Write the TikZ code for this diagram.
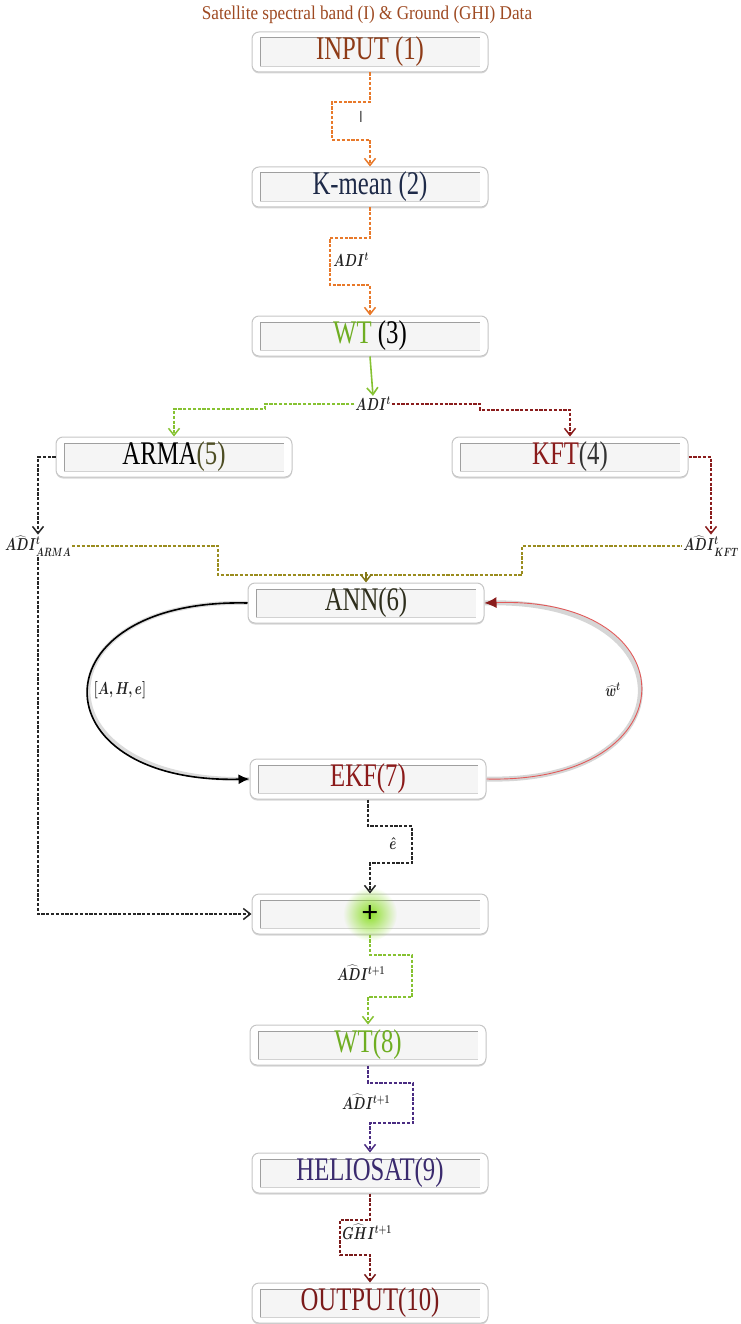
\documentclass[tikz,border=0pt]{standalone}
\usepackage{fontspec}
\usepackage{graphicx}
\setmainfont{Liberation Serif}
\newfontfamily\boxfam[FakeStretch=0.75]{Liberation Serif}
\newfontfamily\titlefam[FakeStretch=0.88]{Liberation Serif}
\usetikzlibrary{arrows.meta,shadows,fadings}

% colours
\definecolor{brownA}{HTML}{8E3B17}
\definecolor{titlebrown}{HTML}{9E4A22}
\definecolor{navy}{HTML}{1E2A48}
\definecolor{wtgreen}{HTML}{6FAE22}
\definecolor{orangeL}{HTML}{E8792A}
\definecolor{greenL}{HTML}{86C232}
\definecolor{redL}{HTML}{8A1C1C}
\definecolor{oliveL}{HTML}{9A8C1E}
\definecolor{purpleL}{HTML}{4A2C82}
\definecolor{helioC}{HTML}{3A2A6E}
\definecolor{ekfred}{HTML}{8B1A1A}
\definecolor{outred}{HTML}{7A1A1A}
\definecolor{annC}{HTML}{2E2E1C}
\definecolor{armaC}{HTML}{4E4E24}
\definecolor{glowgreen}{HTML}{8EE02A}
\definecolor{arcred}{HTML}{E25A5A}
\definecolor{labC}{HTML}{222222}

% narrow math labels
\newcommand{\nar}[1]{\scalebox{0.74}[1]{\boldmath$#1$}}

\tikzfading[name=glowfade, inner color=transparent!0, outer color=transparent!100]

\tikzset{
  blk/.style={rounded corners=7pt, minimum width=236pt, minimum height=40pt,
    inner sep=0pt, fill=white, draw=gray!45, line width=1pt,
    drop shadow={shadow xshift=0pt, shadow yshift=-1.5pt, opacity=0.45, fill=gray!70},
    path picture={
      \fill[gray!8, sharp corners]
        ([shift={(8pt,-6pt)}]path picture bounding box.north west) rectangle
        ([shift={(-8pt,6pt)}]path picture bounding box.south east);
      \draw[gray!75, line width=1pt, sharp corners]
        ([shift={(8pt,6pt)}]path picture bounding box.south west) --
        ([shift={(8pt,-6pt)}]path picture bounding box.north west) --
        ([shift={(-8pt,-6pt)}]path picture bounding box.north east);
      \draw[gray!35, line width=0.8pt, sharp corners]
        ([shift={(8pt,6pt)}]path picture bounding box.south west) --
        ([shift={(-8pt,6pt)}]path picture bounding box.south east);
    },
    font=\boxfam\fontsize{33}{33}\selectfont},
  lab/.style={inner sep=1pt, text=labC, font=\fontsize{17}{17}\selectfont},
  conn/.style={line width=1.5pt, dash pattern=on 3.2pt off 1.6pt},
  tip/.style={-{Straight Barb[length=7pt,width=11pt]}},
}

\begin{document}
\begin{tikzpicture}[x=1pt,y=-1pt]
\useasboundingbox (0,0) rectangle (740,1324);

% title
\node[font=\titlefam\fontsize{19.5}{19.5}\selectfont, text=titlebrown] (title) at (367,15)
  {Satellite spectral band (I) \& Ground (GHI) Data};

% processing blocks
\node[blk] (in)    at (370,52)   {\color{brownA}INPUT (1)};
\node[blk] (km)    at (370,187)  {\color{navy}K-mean (2)};
\node[blk] (wt3)   at (370,336)  {{\color{wtgreen}WT} (3)};
\node[blk] (arma)  at (174,457)  {ARMA{\color{armaC}(5)}};
\node[blk] (kft)   at (570,457)  {{\color{redL}KFT}{\color{black!80}(4)}};
\node[blk] (ann)   at (366,603)  {\color{annC}ANN(6)};
\node[blk] (ekf)   at (368,779)  {\color{ekfred}EKF(7)};
\node[blk] (plus)  at (370,914)  {};
\node[blk] (wt8)   at (368,1045) {\color{wtgreen}WT(8)};
\node[blk] (helio) at (370,1173) {\color{helioC}HELIOSAT(9)};
\node[blk] (out)   at (370,1303) {\color{outred}OUTPUT(10)};

% summing point with its glow
\fill[glowgreen, path fading=glowfade] (plus.center) circle (27pt);
\node[font=\bfseries\fontsize{30}{30}\selectfont] (plussign) at (plus.center) {+};

% signal labels
\node[lab, font=\sffamily\fontsize{16}{16}\selectfont, text=black!70] (lI) at (361,117) {I};
\node[lab] (l2)      at (351,260)  {\nar{ADI^{t}}};
\node[lab] (adit)    at (373,404)  {\nar{ADI^{t}}};
\node[lab] (adiarma) at (38,546)   {\nar{\widehat{ADI}{}^{t}_{ARMA}}};
\node[lab] (adikft)  at (711,546)  {\nar{\widehat{ADI}{}^{t}_{KFT}}};
\node[lab] (lahe)    at (120,690)  {\nar{[A,H,e]}};
\node[lab] (lw)      at (613,690)  {\nar{\widehat{w}{}^{t}}};
\node[lab] (le)      at (393,843)  {\nar{\hat{e}}};
\node[lab] (l8)      at (361,973)  {\nar{\widehat{ADI}{}^{t+1}}};
\node[lab] (l9)      at (366,1102) {\nar{\widehat{ADI}{}^{t+1}}};
\node[lab] (l10)     at (367,1232) {\nar{\widehat{GHI}{}^{t+1}}};

% input -> clustering -> wavelet
\draw[conn, tip, orangeL] (in.south) -- (370,102) -- (332,102) -- (332,140) -- (370,140) -- (km.north);
\draw[conn, tip, orangeL] (km.south) -- (370,238) -- (330,238) -- (330,285) -- (370,285) -- (wt3.north);
\draw[line width=1.6pt, tip, greenL] (wt3.south) -- (adit.north);

% split into ARMA and KFT branches
\draw[conn, tip, greenL] (adit.west) -- (265,404) -- (265,409) -- (174,409) -- (arma.north);
\draw[conn, tip, redL] (adit.east) -- (480,404) -- (480,410) -- (570,410) -- (kft.north);
\draw[conn, tip, black!85] (arma.west) -| (adiarma.north);
\draw[conn, tip, redL] (kft.east) -| (adikft.north);

% merge into the ANN
\draw[conn, oliveL] (adiarma.east) -- (218,546) -- (218,575) -- (522,575) -- (522,546) -- (adikft.west);
\coordinate (merge) at (366,572);
\draw[line width=1.5pt, tip, oliveL!85!black] (merge) -- (ann.north);

% ANN / EKF training loop
\draw[line width=4pt, gray!28] (ann.west) .. controls (35,598) and (35,784) .. (ekf.west);
\draw[line width=1.6pt, black, -{Latex[length=11pt,width=10pt]}] (ann.west) .. controls (35,598) and (35,784) .. (ekf.west);
\draw[line width=5pt, gray!32] (ekf.east) .. controls (692,784) and (692,596) .. (ann.east);
\draw[line width=0.9pt, arcred, -{Latex[length=12pt,width=11pt,color=redL]}] (ekf.east) .. controls (692,784) and (692,596) .. (ann.east);

% error correction and sum
\draw[conn, tip, black!85] (ekf.south) -- (368,826) -- (412,826) -- (412,863) -- (370,863) -- (plus.north);
\draw[conn, tip, black!85] (adiarma.south) |- (plus.west);

% reconstruction and output
\draw[conn, tip, greenL] (plus.south) -- (370,955) -- (412,955) -- (412,997) -- (368,997) -- (wt8.north);
\draw[conn, tip, purpleL] (wt8.south) -- (368,1083) -- (413,1083) -- (413,1123) -- (370,1123) -- (helio.north);
\draw[conn, tip, outred] (helio.south) -- (370,1220) -- (340,1220) -- (340,1255) -- (370,1255) -- (out.north);
\end{tikzpicture}
\end{document}
